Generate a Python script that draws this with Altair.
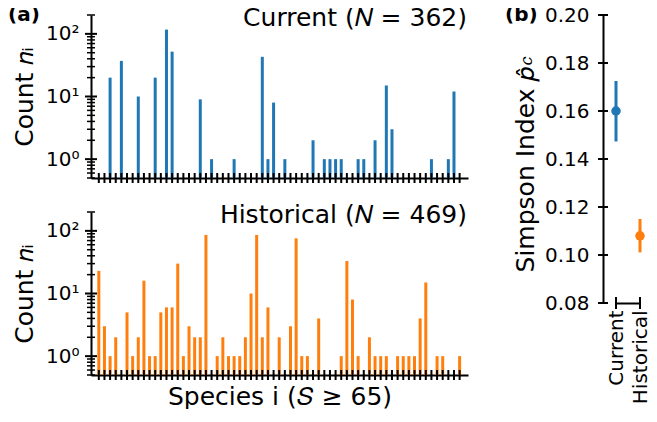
import altair as alt
import pandas as pd

# ---------------- data ----------------
all_species = list(range(65))

current_species = [2, 4, 7, 10, 12, 13, 18, 20, 24, 29, 30, 31, 33, 38, 40, 41, 42, 43,
                   46, 47, 49, 51, 52, 59, 62, 63]
current_counts = [20, 37, 10, 20, 117, 52, 9, 1, 1, 43, 1, 8, 1, 2, 1, 1, 1, 1,
                  1, 1, 2, 15, 3, 1, 1, 12]

hist_species = [0, 1, 2, 3, 5, 6, 7, 8, 9, 10, 11, 12, 13, 14, 15, 16, 17, 18, 19,
                21, 22, 23, 24, 25, 26, 27, 28, 29, 30, 32, 34, 35, 36, 37, 39,
                43, 44, 45, 46, 48, 49, 50, 51, 53, 54, 55, 56, 57, 58, 60, 61, 64]
hist_counts = [23, 3, 1, 2, 5, 1, 2, 16, 1, 1, 5, 6, 6, 30, 1, 3, 2, 2, 86,
               1, 2, 1, 1, 1, 2, 10, 86, 2, 6, 2, 3, 76, 1, 1, 4,
               1, 33, 8, 1, 2, 1, 1, 1, 1, 1, 1, 1, 4, 15, 1, 1, 1]

major_ticks = [1, 10, 100]
minor_ticks = [0.5, 0.6, 0.7, 0.8, 0.9, 2, 3, 4, 5, 6, 7, 8, 9,
               20, 30, 40, 50, 60, 70, 80, 90, 200]

groups = ["Current", "Historical"]
simpson = [0.160, 0.108]
simpson_lo = [0.1473, 0.1011]
simpson_hi = [0.1725, 0.1150]
simpson_ticks = [0.08, 0.10, 0.12, 0.14, 0.16, 0.18, 0.20]

BLUE = "#1f77b4"
ORANGE = "#ff7f0e"
FONT = "DejaVu Sans"

W, H = 377, 163
WB, HB = 43, 288


def panel(species, counts, color, label, is_bottom, tag):
    df = pd.DataFrame({"species": species, "count": counts})
    xs = alt.Scale(domain=[-0.5, 64.6], nice=False, zero=False)
    ys = alt.Scale(type="log", domain=[0.5, 200], nice=False)

    xaxis = alt.Axis(labels=False, ticks=False, grid=False, domainColor="black",
                     domainWidth=2,
                     title="Species i (𝑆 ≥ 65)" if is_bottom else "",
                     titleFontSize=25, titleFontWeight="normal", titleColor="black",
                     titlePadding=9, titleFont=FONT)
    yaxis = alt.Axis(values=major_ticks, ticks=False, grid=False, domainColor="black",
                     domainWidth=2, labelFontSize=20, labelColor="black",
                     labelPadding=12, labelFont=FONT,
                     labelExpr="datum.value == 1 ? '10⁰' : (datum.value == 10 ? '10¹' : '10²')",
                     title="Count 𝑛ᵢ", titleFontSize=25, titleFontWeight="normal",
                     titleColor="black", titlePadding=8, titleFont=FONT)

    bars = alt.Chart(df).mark_bar(size=3, color=color).encode(
        x=alt.X("species:Q", scale=xs, axis=xaxis),
        y=alt.Y("count:Q", scale=ys, axis=yaxis),
        y2=alt.datum(0.5),
    )

    xt = alt.Chart(pd.DataFrame({"species": all_species})).mark_tick(
        color="black", thickness=2, size=10, opacity=1
    ).encode(x=alt.X("species:Q", scale=xs, axis=xaxis), y=alt.value(H))

    ymaj = alt.Chart(pd.DataFrame({"count": major_ticks})).mark_tick(
        color="black", thickness=2, size=12, opacity=1
    ).encode(y=alt.Y("count:Q", scale=ys, axis=yaxis), x=alt.value(0))
    ymin = alt.Chart(pd.DataFrame({"count": minor_ticks})).mark_tick(
        color="black", thickness=1.5, size=8, opacity=1
    ).encode(y=alt.Y("count:Q", scale=ys, axis=yaxis), x=alt.value(0))

    txt = alt.Chart(pd.DataFrame({"t": [label]})).mark_text(
        align="right", baseline="alphabetic", fontSize=25, font=FONT, color="black"
    ).encode(text="t:N", x=alt.value(W - 1), y=alt.value(11))

    layers = [bars, xt, ymaj, ymin, txt]
    if tag:
        tg = alt.Chart(pd.DataFrame({"t": [tag]})).mark_text(
            align="left", baseline="middle", fontSize=20, fontWeight="bold",
            font=FONT, color="black"
        ).encode(text="t:N", x=alt.value(-83), y=alt.value(0))
        layers.append(tg)
    return alt.layer(*layers).properties(width=W, height=H)


top = panel(current_species, current_counts, BLUE, "Current (𝑁 = 362)", False, "(a)")
bottom = panel(hist_species, hist_counts, ORANGE, "Historical (𝑁 = 469)", True, None)

# ---------------- panel (b) ----------------
dfb = pd.DataFrame({"group": groups, "simpson": simpson,
                    "lo": simpson_lo, "hi": simpson_hi})
xsb = alt.Scale(type="point", domain=groups, range=[13, 37], padding=0)
ysb = alt.Scale(domain=[0.08, 0.20], nice=False, zero=False)
csb = alt.Scale(domain=groups, range=[BLUE, ORANGE])

xaxis_b = alt.Axis(ticks=False, grid=False, domainColor="black", domainWidth=2,
                   labelAngle=270, labelFontSize=20, labelColor="black",
                   labelPadding=7, labelFont=FONT, title="")
yaxis_b = alt.Axis(values=simpson_ticks, format=".2f", ticks=False, grid=False,
                   domainColor="black", domainWidth=2, labelFontSize=20,
                   labelColor="black", labelPadding=14, labelFont=FONT,
                   title="Simpson Index 𝑝̂", titleFontSize=25,
                   titleFontWeight="normal", titleColor="black", titlePadding=6,
                   titleFont=FONT, titleY=HB / 2 + 10)

rules = alt.Chart(dfb).mark_rule(strokeWidth=3).encode(
    x=alt.X("group:N", scale=xsb, axis=xaxis_b),
    y=alt.Y("lo:Q", scale=ysb, axis=yaxis_b),
    y2="hi:Q",
    color=alt.Color("group:N", scale=csb, legend=None),
)
pts = alt.Chart(dfb).mark_circle(size=90, opacity=1).encode(
    x=alt.X("group:N", scale=xsb, axis=xaxis_b),
    y=alt.Y("simpson:Q", scale=ysb, axis=yaxis_b),
    color=alt.Color("group:N", scale=csb, legend=None),
)
ytb = alt.Chart(pd.DataFrame({"simpson": simpson_ticks})).mark_rule(
    color="black", strokeWidth=2
).encode(y=alt.Y("simpson:Q", scale=ysb, axis=yaxis_b),
         x=alt.value(-5), x2=alt.value(5))
xtb = alt.Chart(pd.DataFrame({"group": groups})).mark_rule(
    color="black", strokeWidth=2
).encode(x=alt.X("group:N", scale=xsb, axis=xaxis_b),
         y=alt.value(HB - 6), y2=alt.value(HB + 6))
sub_c = alt.Chart(pd.DataFrame({"t": ["𝑐"]})).mark_text(
    angle=270, fontSize=17, font=FONT, color="black", baseline="middle", align="center"
).encode(text="t:N", x=alt.value(-76), y=alt.value(45))
tag_b = alt.Chart(pd.DataFrame({"t": ["(b)"]})).mark_text(
    align="left", baseline="middle", fontSize=20, fontWeight="bold", font=FONT,
    color="black"
).encode(text="t:N", x=alt.value(-98), y=alt.value(0))

panel_b = alt.layer(rules, pts, ytb, xtb, sub_c, tag_b).properties(width=WB, height=HB)

left = alt.vconcat(top, bottom, spacing=34, bounds="flush")

chart = alt.hconcat(left, panel_b, spacing=37).properties(
    padding={"left": 0, "top": -3, "right": -1, "bottom": 0}
).configure(font=FONT).configure_view(stroke=None)

chart.save("out.html", embed_options={"renderer": "svg", "actions": False})
